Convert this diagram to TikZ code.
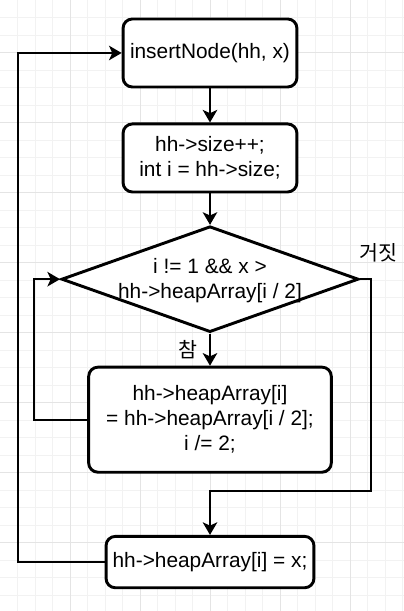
\documentclass[tikz,border=0pt]{standalone}
\usepackage{fontspec}
\setmainfont{Liberation Sans}
\newfontfamily\krfont{Noto Sans CJK KR}
\usepackage{tikz}
\usetikzlibrary{positioning, arrows.meta, calc, shapes.geometric}
\definecolor{gridMinor}{HTML}{F2F2F2}
\definecolor{gridMajor}{HTML}{E4E4E4}

\begin{document}
\begin{tikzpicture}[
    font=\fontsize{15.7}{18.8}\selectfont,
    stepbox/.style ={draw, rounded corners=7pt, line width=2.2pt, fill=white, align=center, minimum width=4.6cm, minimum height=1.8cm, inner sep=2pt},
    decision/.style={draw, diamond, line width=2.2pt, fill=white, aspect=2.8, minimum width=7.86cm, minimum height=2.8cm, inner sep=0pt},
    lbl/.style     ={font=\krfont\fontsize{15.5}{17}\selectfont, inner sep=1pt},
    arr/.style     ={-{Stealth[length=9.5pt, width=11pt, inset=2.5pt]}, line width=1.3pt},
    gridline/.style={line width=0.6pt},
]

% ---- Page and draw.io grid ----
\useasboundingbox (0,0) rectangle (10.689,-16.166);
\fill[white] (0,0) rectangle (10.689,-16.166);
\foreach \k in {1,...,23} \draw[gridline, gridMinor] ({\k*0.463},0) -- ({\k*0.463},-16.166);
\foreach \k in {1,...,34} \draw[gridline, gridMinor] (0,{-\k*0.463}) -- (10.689,{-\k*0.463});
\foreach \k in {4,8,...,20} \draw[gridline, gridMajor] ({\k*0.463},0) -- ({\k*0.463},-16.166);
\foreach \k in {3,7,...,31} \draw[gridline, gridMajor] (0,{-\k*0.463}) -- (10.689,{-\k*0.463});

% ---- Steps ----
\node[stepbox] (start) at (5.556,-1.402) {insertNode(hh, x)};
\node[stepbox, below=0.9cm of start] (grow) {hh->size++;\\int i = hh->size;};
\node[decision, below=0.83cm of grow] (cond) {};
\node[align=center, inner sep=0pt] (condtxt) at ([yshift=-0.05cm]cond.center) {i != 1 \&\& x >\\hh->heapArray[i / 2]};
\node[stepbox, minimum width=6.42cm, minimum height=2.78cm, below=0.85cm of cond] (shift)
  {hh->heapArray[i]\\= hh->heapArray[i / 2];\\i /= 2;};
\node[stepbox, minimum width=5.5cm, minimum height=1.36cm, below=1.62cm of shift] (place) {hh->heapArray[i] = x;};

% ---- Branch labels ----
\node[lbl] (yes) at ($(cond.south)+(-0.58,-0.42)$) {참};
\node[lbl] (no)  at ($(cond.east)+(0.48,0.69)$) {거짓};

% ---- Arrows ----
\coordinate[below=0.45cm of shift] (join);
\draw[arr] (start) -- (grow);
\draw[arr] (grow) -- (cond);
\draw[arr] (cond) -- (shift);
\draw[arr] (shift.west) -- ++(-1.40,0) |- (cond.west);
\draw[arr] (cond.east) -- ++(0.29,0) |- (join) -- (place);
\draw[arr] (place.west) -- ++(-2.30,0) |- (start.west);

\end{tikzpicture}
\end{document}
